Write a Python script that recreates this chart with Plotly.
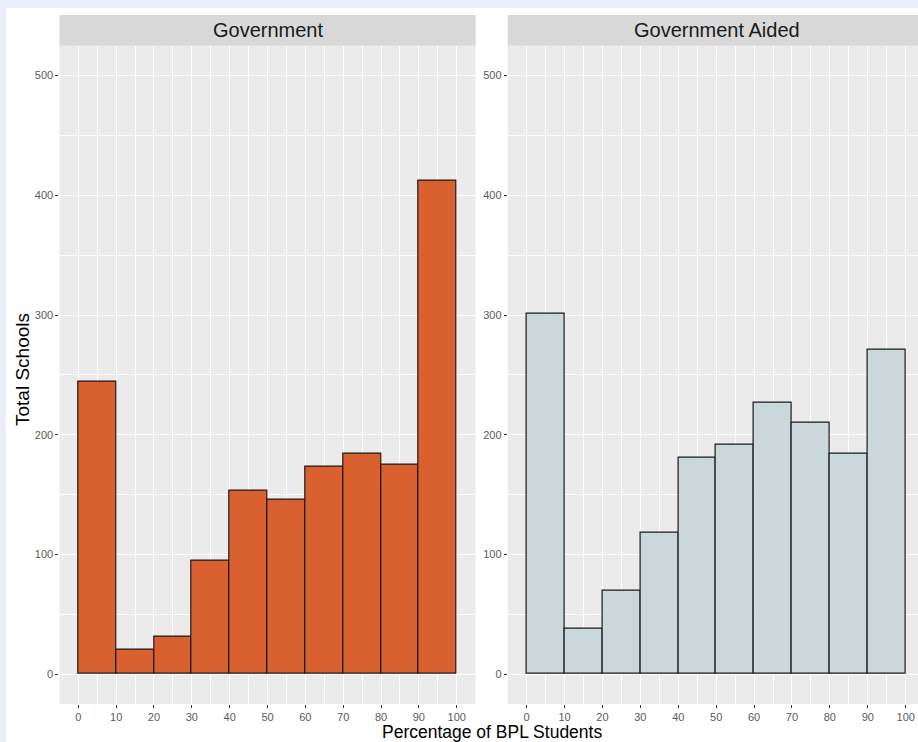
import plotly.graph_objects as go

# ---- data ----
bin_edges = [0, 10, 20, 30, 40, 50, 60, 70, 80, 90, 100]
panels = ["Government", "Government Aided"]
gov_counts = [244, 20, 31, 95, 153, 146, 173, 184, 175, 412]
aided_counts = [301, 38, 70, 118, 181, 192, 227, 210, 184, 271]
x_ticks = [0, 10, 20, 30, 40, 50, 60, 70, 80, 90, 100]
y_ticks = [0, 100, 200, 300, 400, 500]

centers = [(a + b) / 2 for a, b in zip(bin_edges[:-1], bin_edges[1:])]
widths = [b - a for a, b in zip(bin_edges[:-1], bin_edges[1:])]

W, H = 918, 742
L, R, T, B = 59, 0, 15, 38
PW, PH = W - L - R, H - T - B


def px(X):
    return (X - L) / PW


def py(Y):
    return (H - B - Y) / PH


FONT = "Liberation Sans, Arial, sans-serif"
ORANGE = "#D9612F"
GREYBLUE = "#CAD8DC"
PANEL_BG = "#EBEBEB"
STRIP_BG = "#D9D9D9"
TICK_TXT = "#5A5A5A"

fig = go.Figure()
fig.add_trace(go.Bar(x=centers, y=gov_counts, width=widths,
                     marker=dict(color=ORANGE, line=dict(color="#1A1A1A", width=1.2)),
                     xaxis="x", yaxis="y", showlegend=False, hoverinfo="x+y"))
fig.add_trace(go.Bar(x=centers, y=aided_counts, width=widths,
                     marker=dict(color=GREYBLUE, line=dict(color="#1A1A1A", width=1.2)),
                     xaxis="x2", yaxis="y2", showlegend=False, hoverinfo="x+y"))

d1 = [px(59.4), px(475.6)]
d2 = [px(507.7), 1.0]
ytop = py(45.7)

common_x = dict(tickvals=x_ticks, ticks="outside", ticklen=3, tickwidth=1,
                tickcolor="#333333", showgrid=True, gridcolor="white", gridwidth=1.1,
                minor=dict(dtick=5, tick0=0, showgrid=True, gridcolor="white", gridwidth=0.5, ticks=""),
                zeroline=False, showline=False,
                tickfont=dict(family=FONT, size=11, color=TICK_TXT), fixedrange=True)
common_y = dict(tickvals=y_ticks, range=[-25, 525], domain=[0, ytop], ticks="outside",
                ticklen=3, tickwidth=1, tickcolor="#333333",
                showgrid=True, gridcolor="white", gridwidth=1.1,
                minor=dict(dtick=50, tick0=0, showgrid=True, gridcolor="white", gridwidth=0.5, ticks=""),
                zeroline=False, showline=False,
                tickfont=dict(family=FONT, size=11, color=TICK_TXT), fixedrange=True)

shapes = [
    dict(type="rect", xref="paper", yref="paper", x0=px(6), x1=1.0, y0=py(H), y1=py(8),
         fillcolor="white", line=dict(width=0), layer="below"),
]
for dom in (d1, d2):
    shapes.append(dict(type="rect", xref="paper", yref="paper", x0=dom[0], x1=dom[1],
                       y0=0, y1=ytop, fillcolor=PANEL_BG, line=dict(width=0), layer="below"))
    shapes.append(dict(type="rect", xref="paper", yref="paper", x0=dom[0], x1=dom[1],
                       y0=ytop, y1=py(15), fillcolor=STRIP_BG, line=dict(width=0), layer="below"))

annotations = [
    dict(text=panels[0], x=(d1[0] + d1[1]) / 2, y=(ytop + py(15)) / 2, xref="paper", yref="paper",
         showarrow=False, font=dict(family=FONT, size=20, color="#1A1A1A"), xanchor="center", yanchor="middle"),
    dict(text=panels[1], x=px(717), y=(ytop + py(15)) / 2, xref="paper", yref="paper",
         showarrow=False, font=dict(family=FONT, size=20, color="#1A1A1A"), xanchor="center", yanchor="middle"),
    dict(text="Percentage of BPL Students", x=px(492), y=py(731.5), xref="paper", yref="paper",
         showarrow=False, font=dict(family=FONT, size=17.5, color="black"), xanchor="center", yanchor="middle"),
    dict(text="Total Schools", x=px(22), y=py(370), xref="paper", yref="paper", textangle=-90,
         showarrow=False, font=dict(family=FONT, size=19, color="black"), xanchor="center", yanchor="middle"),
]

fig.update_layout(
    width=W, height=H, margin=dict(l=L, r=R, t=T, b=B, pad=0),
    paper_bgcolor="#E8EDF7", plot_bgcolor="rgba(0,0,0,0)",
    bargap=0, showlegend=False,
    xaxis=dict(domain=d1, range=[-5, 105], anchor="y", **common_x),
    yaxis=dict(anchor="x", **common_y),
    xaxis2=dict(domain=d2, range=[-5, 103.25], anchor="y2", **common_x),
    yaxis2=dict(anchor="x2", **common_y),
    shapes=shapes, annotations=annotations,
)

fig.write_html("out.html", config={"displayModeBar": False},
               post_script="document.body.style.margin='0';document.body.style.overflow='hidden';")
